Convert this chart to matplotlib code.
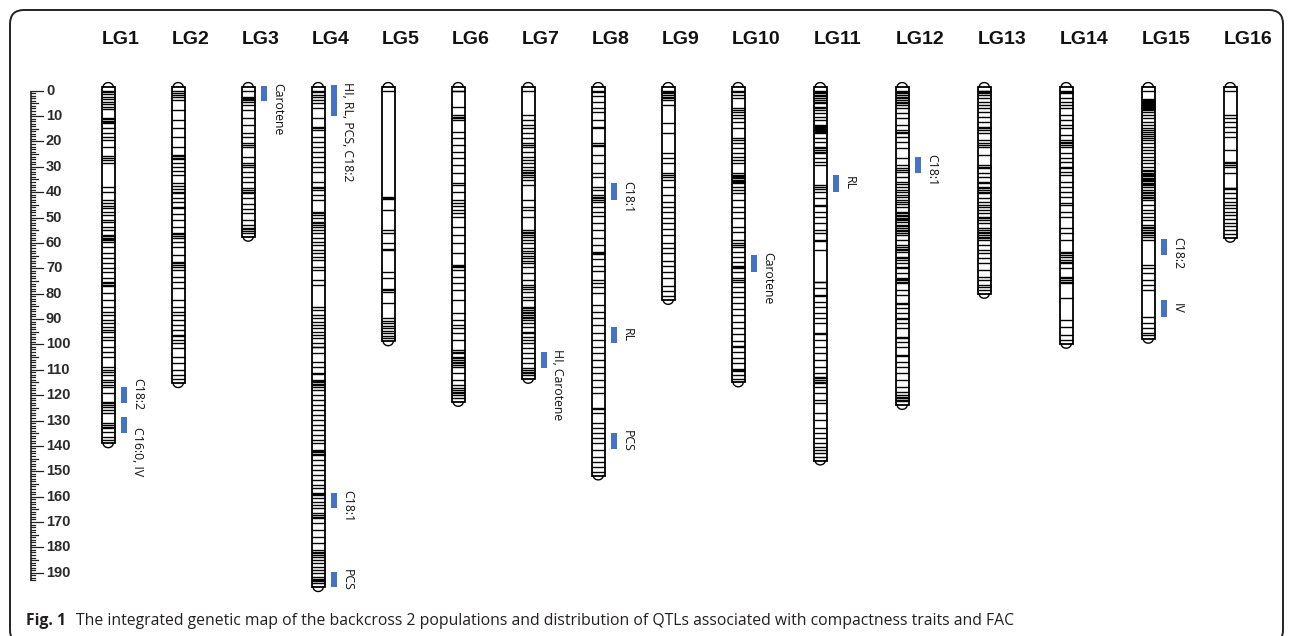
import numpy as np
import matplotlib
matplotlib.use('Agg')
import matplotlib.pyplot as plt
from matplotlib.patches import Rectangle, FancyBboxPatch
from matplotlib.transforms import IdentityTransform

#  ---------------------------------------------------------  #
#  Data: marker positions (cM) per linkage group              #
#  ---------------------------------------------------------  #
lg_names = ['LG1', 'LG2', 'LG3', 'LG4', 'LG5', 'LG6', 'LG7', 'LG8',
            'LG9', 'LG10', 'LG11', 'LG12', 'LG13', 'LG14', 'LG15', 'LG16']

lg1 = [0, 0.4, 1.4, 2.4, 3.3, 4.3, 5.4, 6.3, 7.3, 10.8, 11.3, 11.8, 12.3, 12.8, 14.8, 16.8,
       18.4, 19.4, 22.1, 25.6, 26.5, 27.3, 28.6, 37.8, 39.8, 43.1, 44.4, 45.4, 46.4, 47.7,
       49.0, 51.0, 51.6, 53.6, 54.9, 56.9, 57.4, 57.9, 58.4, 58.9, 59.5, 61.5, 64.1, 66.1,
       68.0, 70.0, 71.3, 73.9, 75.3, 75.9, 76.5, 77.0, 79.9, 82.5, 85.1, 87.1, 88.4, 90.4,
       91.7, 93.0, 94.3, 95.0, 97.0, 98.3, 100.9, 102.9, 104.8, 108.8, 110.1, 110.8, 112.1,
       114.0, 114.7, 116.0, 116.7, 119.3, 122.6, 123.2, 123.9, 124.6, 125.9, 127.2, 131.1,
       131.8, 132.4, 133.1, 134.4, 136.4, 137.5]
lg2 = [0, 1.0, 1.7, 2.4, 3.7, 7.6, 11.5, 14.8, 18.1, 22.1, 25.3, 25.9, 26.5, 27.0, 28.6,
       30.0, 31.5, 33.2, 36.3, 37.6, 38.8, 39.8, 40.4, 42.4, 43.8, 45.7, 46.1, 48.5, 50.8,
       53.6, 56.1, 56.6, 57.3, 57.9, 59.5, 61.5, 64.8, 67.4, 68.0, 68.7, 69.4, 70.7, 73.3,
       75.3, 77.9, 82.5, 85.1, 87.1, 88.4, 90.4, 92.4, 94.3, 96.3, 96.8, 98.3, 99.6, 101.5,
       104.8, 107.4, 110.1, 112.1, 113.8]
lg3 = [0, 2.4, 3.0, 3.4, 3.7, 4.3, 5.6, 7.6, 10.9, 13.5, 16.8, 18.1, 20.7, 21.4, 22.1, 26.0,
       28.6, 29.3, 30.0, 31.9, 33.9, 35.9, 38.5, 39.1, 39.8, 40.4, 42.4, 44.8, 46.7, 48.3,
       51.0, 52.9, 54.1, 54.7, 55.3, 56.1]
lg4 = [0, 0.4, 1.7, 2.4, 3.7, 5.0, 6.9, 10.9, 14.2, 14.8, 15.5, 18.1, 20.1, 22.1, 24.0, 26.0,
       28.0, 30.0, 31.9, 35.9, 37.8, 38.5, 39.1, 41.1, 43.1, 47.7, 48.3, 49.0, 50.3, 51.6,
       52.3, 52.9, 53.6, 54.9, 56.2, 58.2, 59.5, 60.8, 62.8, 64.1, 65.4, 66.7, 69.4, 70.7,
       74.6, 76.6, 85.1, 86.4, 88.4, 89.7, 91.1, 92.4, 93.7, 95.0, 96.3, 97.6, 99.6, 100.9,
       101.2, 103.5, 106.8, 108.8, 111.4, 111.7, 114.0, 114.5, 115.0, 115.6, 116.1, 116.7,
       118.0, 119.9, 121.9, 123.9, 125.9, 127.8, 129.8, 131.8, 133.7, 135.7, 137.7, 139.0,
       141.6, 142.1, 142.6, 143.1, 143.6, 145.6, 147.6, 149.5, 151.5, 153.5, 155.4, 156.7,
       158.7, 159.0, 159.4, 160.7, 162.0, 163.3, 164.6, 166.6, 167.2, 167.9, 168.5, 170.5,
       173.2, 175.8, 178.4, 181.1, 181.7, 182.4, 183.0, 183.7, 185.0, 186.3, 187.6, 188.9,
       190.2, 191.6, 192.6, 192.9, 193.2, 194.2]
lg5 = [0, 41.8, 42.3, 42.8, 47.0, 54.9, 56.2, 60.1, 62.5, 62.8, 71.3, 73.9, 78.3, 78.6, 79.2,
       83.8, 89.7, 90.7, 91.7, 92.7, 93.7, 94.6, 95.6, 96.5, 97.3]
lg6 = [0, 0.3, 6.3, 9.6, 10.2, 10.9, 11.5, 16.2, 18.8, 21.4, 24.0, 26.6, 29.3, 32.6, 36.5,
       37.2, 39.8, 43.1, 44.4, 45.4, 47.0, 48.3, 49.7, 53.6, 56.9, 60.1, 64.1, 68.7, 69.1,
       69.4, 70.7, 73.3, 75.9, 78.6, 82.5, 87.7, 90.4, 92.4, 93.7, 95.6, 98.3, 102.2, 102.9,
       103.5, 104.8, 105.5, 106.1, 106.8, 107.4, 108.1, 108.8, 111.4, 114.0, 116.0, 117.3,
       118.0, 118.6, 119.3, 119.9, 121.2]
lg7 = [0, 9.6, 11.5, 13.5, 14.8, 16.8, 18.8, 20.7, 21.4, 22.1, 24.0, 26.0, 27.3, 28.6, 30.0,
       31.3, 31.9, 32.6, 33.2, 33.9, 35.2, 37.2, 43.1, 45.7, 47.0, 49.7, 54.9, 55.6, 56.2,
       56.9, 57.5, 58.8, 60.1, 62.1, 63.2, 64.1, 65.2, 66.1, 67.1, 68.0, 69.4, 72.0, 74.6,
       76.6, 77.4, 78.1, 79.2, 81.2, 82.5, 85.1, 85.8, 86.4, 87.2, 87.7, 88.4, 89.1, 89.7,
       90.4, 91.7, 93.0, 95.0, 95.5, 97.0, 98.3, 99.6, 101.5, 103.5, 105.5, 107.4, 109.4,
       110.1, 110.8, 111.4, 112.1]
lg8 = [0, 0.4, 2.1, 4.3, 6.9, 8.3, 11.5, 14.2, 14.8, 20.7, 21.3, 21.8, 25.3, 28.6, 32.6,
       33.9, 37.8, 39.1, 41.1, 41.8, 42.4, 43.1, 43.8, 45.7, 47.7, 49.5, 52.0, 55.0, 58.0,
       61.0, 63.5, 64.0, 64.5, 66.5, 69.0, 71.0, 74.6, 75.9, 77.3, 79.9, 84.5, 87.1, 89.7,
       92.4, 95.6, 98.3, 100.9, 103.5, 106.1, 108.8, 111.4, 114.0, 116.7, 119.3, 125.2,
       125.6, 127.2, 131.1, 133.1, 135.0, 137.0, 139.0, 141.6, 144.3, 146.2, 148.2, 150.2]
lg9 = [0, 0.4, 1.0, 1.7, 2.4, 3.0, 3.7, 5.6, 12.8, 16.8, 24.7, 26.6, 28.6, 32.6, 33.2, 33.9,
       35.2, 37.8, 41.1, 43.8, 45.7, 47.7, 50.0, 52.0, 54.5, 57.0, 60.0, 62.0, 64.0, 67.0,
       69.0, 71.5, 74.0, 77.0, 79.0, 81.0]
lg10 = [0, 0.4, 1.7, 3.0, 6.9, 7.6, 8.3, 9.6, 10.9, 12.2, 14.8, 18.8, 19.4, 20.7, 22.7,
        24.7, 26.0, 27.3, 28.6, 32.6, 33.1, 33.6, 34.1, 34.6, 35.1, 35.6, 36.1, 36.5, 37.8,
        39.1, 40.4, 43.1, 45.7, 47.7, 50.3, 53.6, 55.6, 58.8, 60.1, 60.8, 61.5, 63.5, 65.4,
        67.4, 69.0, 69.4, 69.8, 71.3, 73.9, 74.6, 75.3, 77.3, 79.2, 81.2, 83.5, 86.0, 88.5,
        91.0, 93.5, 96.0, 98.5, 100.5, 101.0, 103.0, 105.5, 107.5, 109.5, 110.0, 110.5,
        112.0, 113.5]
lg11 = [0, 0.5, 1.0, 1.6, 2.2, 2.8, 3.7, 4.3, 4.9, 6.3, 6.9, 7.6, 8.9, 10.2, 11.5, 13.5,
        13.9, 14.3, 14.7, 15.1, 15.5, 15.9, 16.3, 16.8, 18.8, 20.1, 22.1, 22.7, 23.4, 24.0,
        24.7, 26.6, 28.0, 29.3, 37.2, 38.0, 38.9, 39.8, 42.4, 45.1, 45.4, 47.7, 49.7, 52.3,
        54.9, 56.2, 58.8, 59.1, 62.8, 75.3, 75.6, 77.9, 80.5, 80.8, 83.2, 85.1, 87.7, 89.7,
        91.7, 95.6, 95.9, 98.3, 100.9, 103.5, 106.1, 108.8, 111.4, 112.7, 113.4, 114.0, 114.7,
        115.3, 116.7, 119.3, 121.9, 123.2, 127.2, 129.8, 133.1, 135.0, 137.0, 139.0, 140.3,
        141.6, 142.9, 144.3]
lg12 = [0, 0.5, 1.1, 1.7, 2.3, 3.0, 3.7, 4.3, 5.0, 5.6, 6.9, 8.9, 10.9, 13.5, 15.5, 16.2,
        16.8, 18.1, 20.1, 22.7, 26.6, 29.3, 30.6, 31.3, 31.9, 33.9, 35.9, 36.6, 37.8, 39.1,
        39.8, 41.1, 41.8, 43.1, 43.8, 44.5, 45.7, 47.7, 48.3, 48.9, 49.4, 50.0, 50.5, 51.0,
        51.6, 52.9, 53.5, 54.2, 54.9, 55.3, 56.2, 56.9, 58.8, 60.8, 61.5, 62.2, 62.8, 63.5,
        65.4, 66.1, 66.7, 68.0, 69.4, 70.0, 72.0, 73.9, 74.3, 74.6, 75.3, 75.9, 78.6, 80.5,
        83.8, 84.2, 85.8, 87.7, 89.7, 90.1, 91.7, 93.7, 97.0, 97.4, 98.9, 100.9, 104.2, 104.6,
        106.8, 108.8, 111.4, 114.0, 116.7, 118.6, 119.9, 120.6, 121.2, 121.8, 122.4]
lg13 = [0, 0.3, 0.7, 1.0, 1.7, 3.0, 4.3, 5.6, 6.9, 8.3, 10.2, 12.2, 14.2, 14.8, 15.5, 16.8,
        19.4, 20.7, 21.4, 22.1, 25.3, 29.3, 30.0, 30.6, 32.6, 33.9, 35.9, 36.5, 37.8, 38.5,
        39.1, 39.8, 40.4, 42.4, 43.8, 45.1, 46.0, 47.0, 48.3, 49.7, 50.3, 50.8, 52.3, 54.2,
        54.9, 55.6, 56.2, 56.9, 57.5, 58.2, 58.8, 60.8, 62.8, 64.1, 66.1, 68.0, 70.7, 73.3,
        74.6, 76.6, 77.2, 78.6]
lg14 = [0, 0.4, 1.0, 3.0, 4.3, 5.6, 6.9, 9.6, 11.5, 13.5, 14.8, 17.5, 19.4, 20.1, 20.7, 21.4,
        22.1, 24.7, 26.6, 28.0, 30.0, 30.3, 31.9, 33.2, 35.9, 37.8, 39.8, 41.8, 44.4, 44.9,
        47.7, 49.7, 54.2, 56.2, 58.8, 63.5, 64.1, 64.8, 65.4, 66.7, 67.4, 68.0, 70.0, 73.3,
        73.9, 74.6, 75.3, 75.9, 81.8, 90.4, 93.0, 96.3, 98.3]
lg15 = [0, 3.4, 3.8, 4.2, 4.6, 5.0, 5.4, 5.8, 6.2, 6.6, 7.0, 7.4, 7.8, 8.2, 9.6, 10.9, 12.2,
        13.5, 14.8, 15.6, 16.4, 17.2, 18.0, 18.8, 19.4, 20.7, 22.1, 23.4, 24.7, 26.0, 27.3,
        28.6, 30.0, 31.3, 31.8, 32.3, 32.8, 33.3, 33.8, 34.3, 34.8, 35.2, 35.7, 36.2, 36.7,
        37.2, 37.8, 39.1, 39.8, 40.4, 41.1, 41.8, 42.4, 43.1, 45.1, 47.0, 48.3, 49.7, 51.0,
        52.9, 53.6, 54.2, 54.9, 55.6, 56.2, 56.9, 57.5, 58.8, 68.7, 70.0, 72.0, 74.6, 76.6,
        78.6, 89.1, 91.7, 93.7, 95.6, 96.3]
lg16 = [0, 9.6, 10.9, 12.2, 14.2, 16.2, 18.1, 23.4, 28.0, 28.6, 29.3, 30.0, 32.6, 38.2, 38.5,
        38.8, 40.4, 42.4, 43.8, 45.1, 46.4, 47.7, 49.0, 50.5, 52.0, 53.5, 55.0, 56.5]

markers = [lg1, lg2, lg3, lg4, lg5, lg6, lg7, lg8,
           lg9, lg10, lg11, lg12, lg13, lg14, lg15, lg16]

# QTL intervals (LG number, start cM, end cM, trait label)
qtl_lg = [1, 1, 3, 4, 4, 4, 7, 8, 8, 8, 10, 11, 12, 15, 15]
qtl_start = [116.9, 128.5, -2.0, -2.2, 158.5, 189.6, 102.9, 36.5, 93.0, 135.0, 64.8, 33.2, 26.0, 58.6, 82.5]
qtl_end = [123.2, 134.8, 3.9, 10.0, 164.6, 195.7, 109.4, 43.1, 99.6, 141.3, 71.3, 39.8, 32.6, 64.9, 89.1]
qtl_label = ['C18:2', 'C16:0, IV', 'Carotene', 'HI, RL, PCS, C18:2', 'C18:1', 'PCS',
             'HI, Carotene', 'C18:1', 'RL', 'PCS', 'Carotene', 'RL', 'C18:1', 'C18:2', 'IV']

ruler_ticks = list(range(0, 191, 10))

caption_bold = 'Fig. 1'
caption_text = ('The integrated genetic map of the backcross 2 populations and distribution '
                'of QTLs associated with compactness traits and FAC')

#  ---------------------------------------------------------  #
#  Figure / axes (x in pixels, y in cM)                       #
#  ---------------------------------------------------------  #
W, H = 1292, 636
Y0_PX = 90.7        # pixel row of 0 cM
PX_PER_CM = 2.537

fig = plt.figure(figsize=(W / 100., H / 100.), dpi=100)
ax = fig.add_axes([0, 0, 1, 1])
ax.set_xlim(0, W)
ax.set_ylim((H - Y0_PX) / PX_PER_CM, -Y0_PX / PX_PER_CM)
ax.axis('off')

BLUE = '#4472c4'
BAR_W = 13.0
CAP = 1.7   # dome height (cM)
PAD = 1.5   # body beyond first/last marker (cM)

# column left edges: narrower pitch for one-digit names
lefts = []
x = 101.7
for name in lg_names:
    lefts.append(x)
    x += 70 if len(name) == 3 else 82

#  ---------------------------------------------------------  #
#  ruler                                                      #
#  ---------------------------------------------------------  #
RX = 30.5
ax.plot([RX, RX], [0, 193.3], color='#222222', lw=1.2, solid_capstyle='butt')
for v in range(0, 194):
    if v % 10 == 0:
        ln = 12.5
    elif v % 5 == 0:
        ln = 7.5
    else:
        ln = 4.5
    ax.plot([RX, RX + ln], [v, v], color='#222222', lw=0.9)
for v in ruler_ticks:
    ax.text(46, v, str(v), ha='left', va='center', fontsize=10.5, fontweight='bold',
            family='Liberation Sans', color='#2a2a2a')

#  ---------------------------------------------------------  #
#  chromosomes                                                #
#  ---------------------------------------------------------  #
t = np.linspace(0, np.pi, 40)
for name, left, m in zip(lg_names, lefts, markers):
    top = m[0] - PAD
    bot = m[-1] + PAD
    cx = left + BAR_W / 2.
    ax.add_patch(Rectangle((left, top), BAR_W, bot - top, facecolor='white',
                           edgecolor='black', lw=1.3, zorder=2))
    ax.plot(cx + (BAR_W / 2. - 1.5) * np.cos(t), top - CAP * np.sin(t), color='black', lw=1.0, zorder=2)
    ax.plot(cx + (BAR_W / 2. - 1.5) * np.cos(t), bot + CAP * np.sin(t), color='black', lw=1.0, zorder=2)
    ax.hlines(m, left, left + BAR_W, color='black', lw=1.0, zorder=3)
    ax.text(left, -18.4, name, ha='left', va='baseline', fontsize=14, fontweight='bold',
            family='Liberation Sans', color='#111111')

#  ---------------------------------------------------------  #
#  QTL bars and labels                                        #
#  ---------------------------------------------------------  #
qx = [lefts[g - 1] for g in qtl_lg]
ax.bar([q + 22 for q in qx], [e - s for s, e in zip(qtl_start, qtl_end)],
       bottom=qtl_start, width=6, color=BLUE, zorder=3)

labels = []
for q, s, e, lab in zip(qx, qtl_start, qtl_end, qtl_label):
    tx = ax.text(q + 36, (s + e) / 2., lab, rotation=-90, ha='center', va='center',
                 fontsize=8.8, family='Open Sans', color='#111111')
    labels.append(tx)

fig.canvas.draw()
r = fig.canvas.get_renderer()
inv = ax.transData.inverted()


def y_extent(txt):
    bb = txt.get_window_extent(r)
    ya = inv.transform((0, bb.y0))[1]
    yb = inv.transform((0, bb.y1))[1]
    return min(ya, yb), max(ya, yb)


# keep label below the top of its bar, and push overlapping labels apart
prev = {}
for i, tx in enumerate(labels):
    y_top, y_bot = y_extent(tx)
    cy = tx.get_position()[1]
    if y_top < qtl_start[i] - 1.1:
        cy += (qtl_start[i] - 1.1) - y_top
        tx.set_y(cy)
    g = qtl_lg[i]
    if g in prev:
        j = prev[g]
        p_top, p_bot = y_extent(labels[j])
        n_top, n_bot = y_extent(tx)
        need = p_bot + 7.0 - n_top
        if need > 0:
            labels[j].set_y(labels[j].get_position()[1] - need / 3.)
            tx.set_y(tx.get_position()[1] + 2 * need / 3.)
    prev[g] = i

#  ---------------------------------------------------------  #
#  frame + caption                                            #
#  ---------------------------------------------------------  #
box = FancyBboxPatch((10, -8), 1273, H - 10 + 8, boxstyle='round,pad=0,rounding_size=14',
                     transform=IdentityTransform(), facecolor='none', edgecolor='#222222', lw=1.4)
fig.patches.append(box)

cap1 = fig.text(26. / W, 11. / H, caption_bold, ha='left', va='baseline', fontsize=11.3,
                fontweight='bold', family='Open Sans', color='#231f20')
fig.canvas.draw()
bb = cap1.get_window_extent(r)
fig.text((bb.x1 + 10) / W, 11. / H, caption_text, ha='left', va='baseline', fontsize=11.3,
         family='Open Sans', color='#231f20')

fig.savefig('out.png', dpi=100)
